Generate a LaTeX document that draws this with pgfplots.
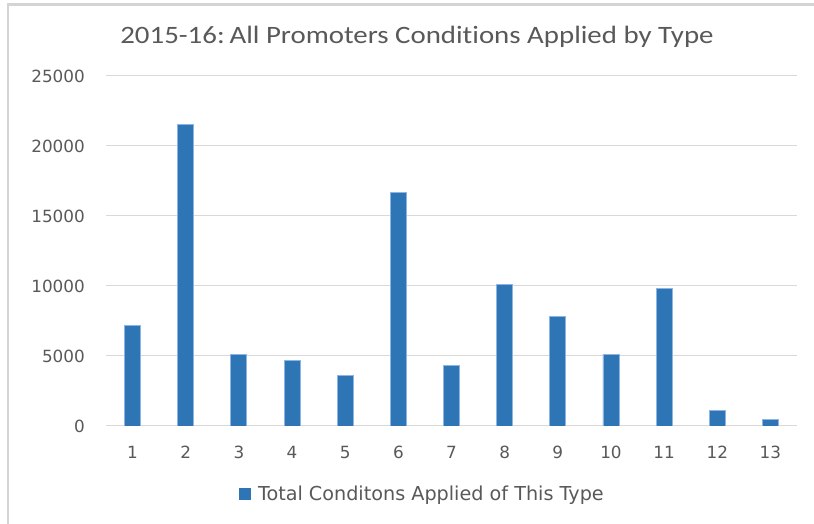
\documentclass[border=0pt]{standalone}
\usepackage{pgfplots}
\pgfplotsset{compat=1.18}
\usepackage{graphicx}
\usepackage{fontspec}
\setmainfont{DejaVu Sans}
\newfontfamily\titlefont[Ligatures={NoCommon}]{Carlito}
\definecolor{barblue}{HTML}{2E75B6}
\definecolor{baredge}{HTML}{8DB4E2}
\definecolor{gridgray}{HTML}{D9D9D9}
\definecolor{txtgray}{HTML}{595959}
\definecolor{bordergray}{HTML}{D4D4D4}
\begin{document}
\begin{tikzpicture}[x=1pt,y=1pt]
\useasboundingbox (0,0) rectangle (814,524);
\fill[white] (0,0) rectangle (814,524);
\draw[bordergray, line width=2.2pt] (8,0) -- (8,519.5) -- (814,519.5);
\node[txtgray, anchor=center, inner sep=0pt] at (417,487) {\scalebox{1.155}[1]{\titlefont\fontsize{25}{30}\selectfont 2015-16:\,All Promoters Conditions Applied by Type}};
\begin{axis}[
  at={(106pt,98pt)}, anchor=origin,
  scale only axis, width=691pt, height=350pt,
  xmin=0.5, xmax=13.5, ymin=0, ymax=25000,
  xtick={1,...,13}, ytick={0,5000,...,25000},
  /pgf/number format/assume math mode=true,
  scaled y ticks=false,
  yticklabel={\pgfmathprintnumber[fixed,1000 sep={}]{\tick}},
  ymajorgrids, grid style={gridgray, line width=1pt},
  axis line style={draw=none},
  major tick length=0pt,
  tick label style={txtgray, font=\fontsize{16.8}{20}\selectfont},
  yticklabel style={anchor=east, inner sep=0pt, xshift=-21pt},
  xticklabel style={anchor=north, inner sep=0pt, yshift=-20pt},
  legend style={draw=none, fill=none, at={(axis description cs:0.458,-0.194)}, anchor=center,
    font=\fontsize{19.2}{22}\selectfont, text=txtgray,
    /tikz/every odd column/.append style={column sep=5pt}},
  legend image code/.code={\fill[barblue] (0pt,-5.5pt) rectangle (11pt,5.5pt);},
]
\addplot[ybar, bar width=16pt, fill=barblue, draw=baredge, line width=0.8pt] coordinates {
(1,7150) (2,21550) (3,5100) (4,4700) (5,3600) (6,16700) (7,4300)
(8,10100) (9,7800) (10,5100) (11,9800) (12,1100) (13,450)};
\addlegendentry{Total Conditons Applied of This Type}
\end{axis}
\end{tikzpicture}
\end{document}
